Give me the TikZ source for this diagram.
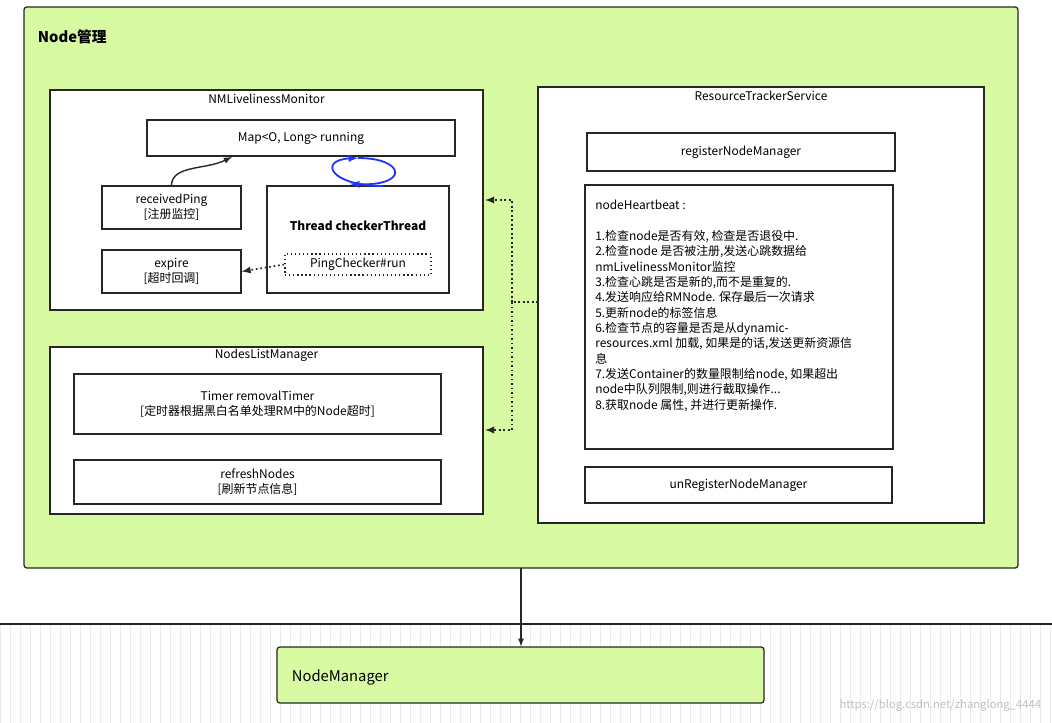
\documentclass[tikz,border=0pt]{standalone}
\usepackage{fontspec}
\setmainfont{Noto Sans CJK SC}
\usepackage{xcolor}
\usetikzlibrary{positioning}

\definecolor{nodegreen}{HTML}{D7FAA2}
\definecolor{loopblue}{HTML}{2233FF}

\tikzset{
  box/.style={draw=black!85, line width=0.9pt, fill=white, inner sep=0pt,
    align=center, font=\fontsize{8.5}{11}\selectfont},
}

\begin{document}
\begin{tikzpicture}[x=0.025cm, y=-0.025cm]
        \useasboundingbox (0,0) rectangle (1052,723);

        % Grid under the divider
        \draw [black!8, step=10] (0,624) grid (1052,723);
        \draw [line width=1pt, black!85] (0,624) -- (1052,624);

        % Node management frame
        \draw [fill=nodegreen, draw=black!85, line width=0.9pt, rounded corners=2pt] (24,7) rectangle (1018,568);
        \node [anchor=west, font=\bfseries\fontsize{10.5}{12}\selectfont] (title) at (33,37) {Node管理};

        % NMLivelinessMonitor
        \draw [box] (50,90) rectangle (483,310);
        \node [font=\fontsize{8.5}{10}\selectfont] (nmlm) at (266.5,99) {NMLivelinessMonitor};
        \node [box, minimum width=308*0.025cm, minimum height=36*0.025cm] (map) at (301,138) {Map<O, Long> running};
        \node [box, minimum width=139*0.025cm, minimum height=43*0.025cm] (ping) at (171.5,207.5) {receivedPing\\{[注册监控]}};
        \node [box, minimum width=139*0.025cm, minimum height=43*0.025cm] (expire) at (171.5,271.5) {expire\\{[超时回调]}};
        \node [box, minimum width=182*0.025cm, minimum height=107*0.025cm] (thread) at (358,239.5) {};
        \node [font=\bfseries\fontsize{8.5}{10}\selectfont] (tname) at (358,226) {Thread checkerThread};
        \node [box, dotted, line width=1.2pt, minimum width=146*0.025cm, minimum height=21*0.025cm] (checker) at (358,264.5) {PingChecker\#run};

        \draw [-latex, line width=1pt, black!85] (ping.north) .. controls (172,165) and (205,170) .. (232,157);
        \draw [dotted, -latex, line width=1.2pt, black!85] (checker.west) -- (expire.east);
        \draw [loopblue, line width=1.3pt, -latex] (383,186) .. controls (330,186) and (318,160) .. (358,158);
        \draw [loopblue, line width=1.3pt, -latex] (358,158) .. controls (405,158) and (410,186) .. (350,184);

        % NodesListManager
        \draw [box] (50,347) rectangle (483,514);
        \node [font=\fontsize{8.5}{10}\selectfont] (nlm) at (266.5,355) {NodesListManager};
        \node [box, minimum width=367*0.025cm, minimum height=60*0.025cm] (timer) at (257.5,404) {Timer removalTimer\\{[定时器根据黑白名单处理RM中的Node超时]}};
        \node [box, minimum width=367*0.025cm, minimum height=44*0.025cm] (refresh) at (257.5,482) {refreshNodes\\{[刷新节点信息]}};

        % ResourceTrackerService
        \draw [box] (538,87) rectangle (984,523);
        \node [font=\fontsize{8.5}{10}\selectfont] (rts) at (761,96) {ResourceTrackerService};
        \node [box, minimum width=308*0.025cm, minimum height=38*0.025cm] (reg) at (741,152) {registerNodeManager};
        \node [box, minimum width=308*0.025cm, minimum height=264*0.025cm] (hb) at (739,317) {};
        \node [anchor=north west, align=left, inner sep=0pt, font=\fontsize{8.5}{10.9}\selectfont] (hbtext) at (595,200) {nodeHeartbeat :\\[10.9pt]
1.检查node是否有效, 检查是否退役中.\\
2.检查node 是否被注册,发送心跳数据给\\
nmLivelinessMonitor监控\\
3.检查心跳是否是新的,而不是重复的.\\
4.发送响应给RMNode. 保存最后一次请求\\
5.更新node的标签信息\\
6.检查节点的容量是否是从dynamic-\\
resources.xml 加载, 如果是的话,发送更新资源信\\
息\\
7.发送Container的数量限制给node, 如果超出\\
node中队列限制,则进行截取操作...\\
8.获取node 属性, 并进行更新操作.};
        \node [box, minimum width=307*0.025cm, minimum height=36*0.025cm] (unreg) at (738.5,485) {unRegisterNodeManager};

        % Dotted links from the tracker
        \coordinate (rtsw) at (538,302);
        \coordinate (mid) at (512,302);
        \draw [dotted, line width=1.2pt, black!85] (rtsw) -- (mid);
        \draw [dotted, -latex, line width=1.2pt, black!85] (mid) -- (512,200) -- (485,200);
        \draw [dotted, -latex, line width=1.2pt, black!85] (mid) -- (512,430) -- (485,430);

        % NodeManager
        \node [draw=black!85, line width=0.9pt, fill=nodegreen, rounded corners=2pt, minimum width=487*0.025cm, minimum height=56*0.025cm] (nm) at (520.5,675) {};
        \node [anchor=west, font=\fontsize{10.5}{12}\selectfont] (nmtext) at (287,677) {NodeManager};
        \coordinate (frame) at (521,568);
        \draw [-latex, line width=0.9pt, black!85] (frame) -- (nm.north -| frame);

        \node [anchor=south east, text=black!25, font=\fontsize{8}{9}\selectfont] (mark) at (1046,716) {https://blog.csdn.net/zhanglong\_4444};
\end{tikzpicture}
\end{document}
